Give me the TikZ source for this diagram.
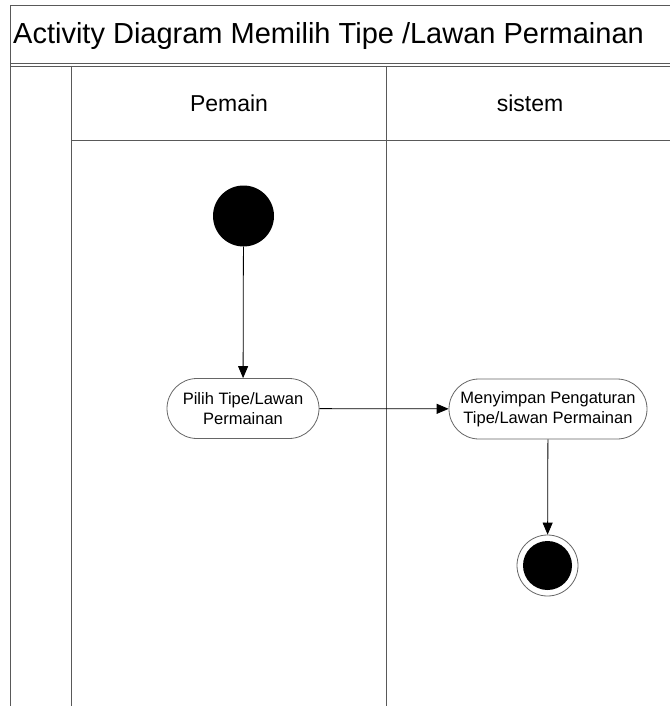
\documentclass[tikz,border=0pt]{standalone}
\usepackage{fontspec}
\setmainfont{Liberation Sans}
\usetikzlibrary{arrows.meta}
\begin{document}
\begin{tikzpicture}[x=1pt,y=-1pt,
  frameline/.style={draw=black!65,line width=0.9pt},
  activity/.style={draw=black!60,line width=0.8pt,rounded corners=30pt,minimum height=60pt,align=center,font=\fontsize{16.5}{20}\selectfont,inner sep=0pt},
  flow/.style={draw=black,line width=0.8pt,-{Triangle[width=10pt,length=12pt]}},
  lanelabel/.style={font=\fontsize{23}{26}\selectfont,anchor=base}]
\useasboundingbox (0,0) rectangle (669,706);
% frames
\draw[frameline] (10,706) -- (10,5) -- (680,5);
\draw[frameline] (10,63) -- (680,63);
\draw[frameline] (10,66) -- (680,66);
\draw[frameline] (71,66) -- (71,706);
\draw[frameline] (386,66) -- (386,706);
\draw[frameline] (71,140) -- (680,140);
\node[anchor=base west,font=\fontsize{29}{32}\selectfont,inner sep=0pt] (title) at (13,43.5) {Activity Diagram Memilih Tipe /Lawan Permainan};
\node[lanelabel] (pemain) at (229,111) {Pemain};
\node[lanelabel] (sistem) at (530,111) {sistem};
% nodes
\node[circle,fill=black,minimum size=61pt,inner sep=0pt] (start) at (243.5,216) {};
\node[activity,minimum width=152pt] (act1) at (243,408.5) {Pilih Tipe/Lawan\\Permainan};
\node[activity,minimum width=198pt] (act2) at (548,409) {Menyimpan Pengaturan\\Tipe/Lawan Permainan};
\node[circle,draw=black!60,line width=0.8pt,minimum size=61pt,inner sep=0pt] (end) at (547.5,565.5) {};
\node[circle,fill=black,minimum size=49pt,inner sep=0pt] (endin) at (547.5,565.5) {};
% flows
\draw[flow] (start) -- (act1);
\draw[flow] (act1) -- (act2);
\draw[flow] (act2) -- (end);
\end{tikzpicture}
\end{document}
